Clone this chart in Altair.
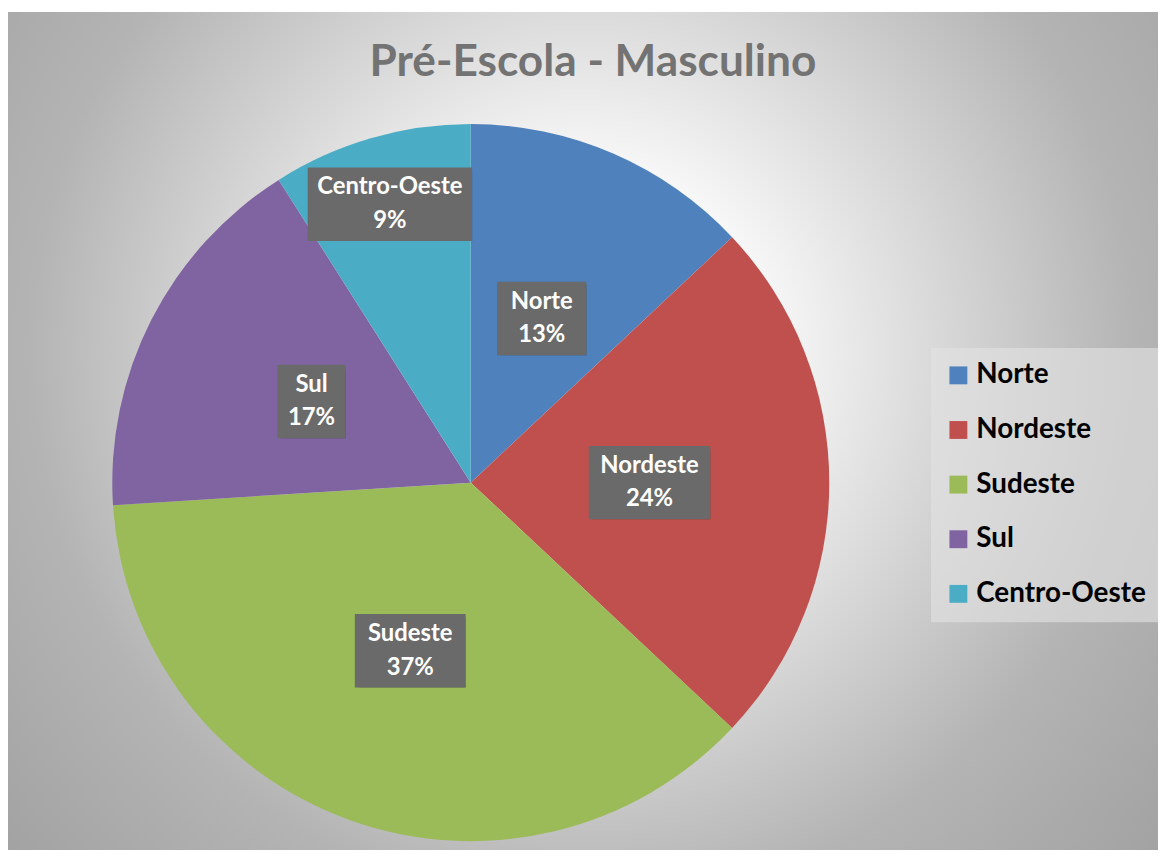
import altair as alt
import pandas as pd

# ---- data ----
regions = ["Norte", "Nordeste", "Sudeste", "Sul", "Centro-Oeste"]
shares = [13, 24, 37, 17, 9]
colors = ["#4F81BD", "#C0504D", "#9BBB59", "#8064A2", "#4BACC6"]
title_text = "Pré-Escola - Masculino"

W, H = 1158, 842
CX, CY, R = 466, 475, 361

df = pd.DataFrame({"region": regions, "pct": shares, "idx": list(range(len(regions)))})
one = pd.DataFrame({"a": [0]})

bg = alt.Chart(one).mark_rect(
    color=alt.RadialGradient(
        gradient="radial",
        x1=0.5, y1=0.42, r1=0.0,
        x2=0.5, y2=0.42, r2=0.8,
        stops=[
            alt.GradientStop(offset=0.0, color="#ffffff"),
            alt.GradientStop(offset=0.2, color="#f8f8f8"),
            alt.GradientStop(offset=0.6, color="#b4b4b4"),
            alt.GradientStop(offset=1.0, color="#959595"),
        ],
    )
).encode(x=alt.value(0), x2=alt.value(W), y=alt.value(1), y2=alt.value(H + 30))

pie = alt.Chart(df).mark_arc(outerRadius=R, strokeWidth=0).encode(
    theta=alt.Theta("pct:Q", stack=True),
    order=alt.Order("idx:Q"),
    color=alt.Color(
        "region:N",
        scale=alt.Scale(domain=regions, range=colors),
        sort=regions,
        legend=alt.Legend(
            title=None,
            orient="none",
            legendX=929,
            legendY=339,
            padding=14,
            fillColor="rgba(226,226,226,0.62)",
            strokeColor="rgba(0,0,0,0)",
            symbolType="square",
            symbolSize=324,
            symbolStrokeWidth=0,
            labelFont="Lato",
            labelFontSize=28,
            labelFontWeight="bold",
            labelColor="#000000",
            labelOffset=4,
            rowPadding=27,
            labelLimit=400,
        ),
    ),
    x=alt.value(CX),
    y=alt.value(CY),
)

lab = alt.Chart(df).transform_joinaggregate(
    total="sum(pct)"
).transform_window(
    cum="sum(pct)", sort=[alt.SortField("idx")]
).transform_calculate(
    mid="(datum.cum - datum.pct/2) / datum.total * 2 * PI",
    rr="datum.region == 'Centro-Oeste' ? 292 : 180",
    cx=f"{CX} + datum.rr * sin(datum.mid)",
    cy=f"{CY} - datum.rr * cos(datum.mid)",
    bw="max(length(datum.region), 3) * 10.8 + 36",
    xa="datum.cx - datum.bw/2",
    xb="datum.cx + datum.bw/2",
    ya="datum.cy - 37",
    yb="datum.cy + 37",
    pl="datum.pct + '%'",
)

enc_box = dict(x=alt.X("xa:Q", scale=None), x2="xb:Q", y=alt.Y("ya:Q", scale=None), y2="yb:Q")
shadow1 = lab.mark_rect(color="#000000", opacity=0.12, xOffset=6, yOffset=6).encode(**enc_box)
shadow2 = lab.mark_rect(color="#000000", opacity=0.22, xOffset=3, yOffset=3).encode(**enc_box)
box = lab.mark_rect(color="#6a6a6a").encode(**enc_box)
t1 = lab.mark_text(font="Lato", fontSize=24, fontWeight="bold", color="white",
                   baseline="middle", align="center", dy=-17).encode(
    x=alt.X("cx:Q", scale=None), y=alt.Y("cy:Q", scale=None), text="region:N"
)
t2 = lab.mark_text(font="Lato", fontSize=24, fontWeight="bold", color="white",
                   baseline="middle", align="center", dy=17).encode(
    x=alt.X("cx:Q", scale=None), y=alt.Y("cy:Q", scale=None), text="pl:N"
)

title = alt.Chart(one).mark_text(
    text=title_text, font="Lato", fontSize=44.5, fontWeight="bold", color="#737373",
    align="center", baseline="alphabetic"
).encode(x=alt.value(589), y=alt.value(66))

chart = alt.layer(bg, pie, shadow1, shadow2, box, t1, t2, title).properties(
    width=W, height=H, padding=0, autosize=alt.AutoSizeParams(type="none"),
    background="white",
).configure_view(stroke=None)

chart.save("out.html", embed_options={"renderer": "svg", "actions": False})
